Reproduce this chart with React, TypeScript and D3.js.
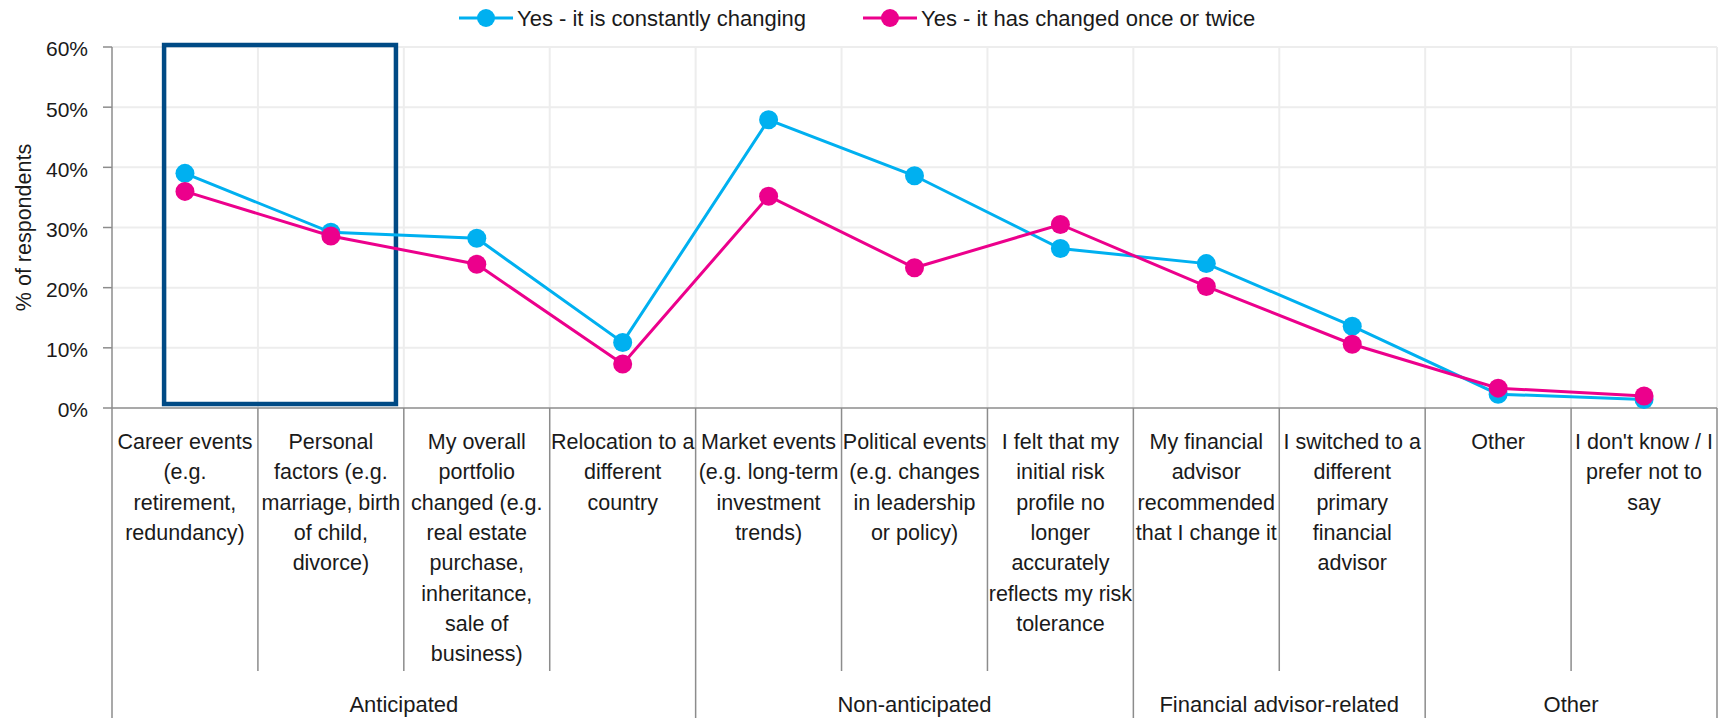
import { useEffect, useRef } from 'react'
import * as d3 from 'd3'

const categories = [
  ['Career events', '(e.g.', 'retirement,', 'redundancy)'],
  ['Personal', 'factors (e.g.', 'marriage, birth', 'of child,', 'divorce)'],
  ['My overall', 'portfolio', 'changed (e.g.', 'real estate', 'purchase,', 'inheritance,', 'sale of', 'business)'],
  ['Relocation to a', 'different', 'country'],
  ['Market events', '(e.g. long-term', 'investment', 'trends)'],
  ['Political events', '(e.g. changes', 'in leadership', 'or policy)'],
  ['I felt that my', 'initial risk', 'profile no', 'longer', 'accurately', 'reflects my risk', 'tolerance'],
  ['My financial', 'advisor', 'recommended', 'that I change it'],
  ['I switched to a', 'different', 'primary', 'financial', 'advisor'],
  ['Other'],
  ["I don't know / I", 'prefer not to', 'say'],
]

const groups = [
  { name: 'Anticipated', start: 0, end: 4 },
  { name: 'Non-anticipated', start: 4, end: 7 },
  { name: 'Financial advisor-related', start: 7, end: 9 },
  { name: 'Other', start: 9, end: 11 },
]

const constantlyChanging = [0.39, 0.292, 0.282, 0.109, 0.479, 0.386, 0.265, 0.24, 0.136, 0.023, 0.014]
const changedOnceOrTwice = [0.36, 0.286, 0.239, 0.073, 0.352, 0.233, 0.305, 0.202, 0.106, 0.033, 0.02]

const series = [
  { name: 'Yes - it is constantly changing', color: '#00B0F0', values: constantlyChanging },
  { name: 'Yes - it has changed once or twice', color: '#EC008C', values: changedOnceOrTwice },
]

const yTicks = [0, 0.1, 0.2, 0.3, 0.4, 0.5, 0.6]

const FONT = '"Liberation Sans", Arial, sans-serif'

export default function App() {
  const svgRef = useRef<SVGSVGElement>(null)
  const width = 1721
  const height = 718

  useEffect(() => {
    if (!svgRef.current) return
    const svg = d3.select(svgRef.current)
    svg.selectAll('*').remove()

    const left = 112, right = 1717, top = 47, bottom = 408

    const x = d3.scaleBand<number>()
      .domain(categories.map((_, i) => i))
      .range([left, right])
      .padding(0)
    const bw = x.bandwidth()
    const cx = (i: number) => (x(i) as number) + bw / 2

    const y = d3.scaleLinear().domain([0, 0.6]).range([bottom, top])

    const g = svg.append('g').style('font-family', FONT)

    // gridlines
    g.append('g').selectAll('line')
      .data(yTicks.slice(1))
      .enter().append('line')
      .attr('x1', left).attr('x2', right)
      .attr('y1', d => y(d)).attr('y2', d => y(d))
      .attr('stroke', '#EDEDED').attr('stroke-width', 2)

    g.append('g').selectAll('line')
      .data(d3.range(1, categories.length + 1))
      .enter().append('line')
      .attr('x1', d => left + d * bw).attr('x2', d => left + d * bw)
      .attr('y1', top).attr('y2', bottom)
      .attr('stroke', '#EDEDED').attr('stroke-width', 2)

    // y axis
    g.append('line')
      .attr('x1', left).attr('x2', left).attr('y1', top).attr('y2', bottom)
      .attr('stroke', '#8C8C8C').attr('stroke-width', 1.5)
    g.append('g').selectAll('line')
      .data(yTicks)
      .enter().append('line')
      .attr('x1', left - 9).attr('x2', left)
      .attr('y1', d => y(d)).attr('y2', d => y(d))
      .attr('stroke', '#8C8C8C').attr('stroke-width', 1.5)
    g.append('g').selectAll('text')
      .data(yTicks)
      .enter().append('text')
      .attr('x', 88).attr('y', d => y(d))
      .attr('dy', '0.45em')
      .attr('text-anchor', 'end')
      .style('font-size', '21px')
      .style('fill', '#1a1a1a')
      .text(d => d3.format('.0%')(d))

    g.append('text')
      .attr('transform', `translate(31,${(top + bottom) / 2}) rotate(-90)`)
      .attr('text-anchor', 'middle')
      .style('font-size', '21.5px')
      .style('fill', '#1a1a1a')
      .text('% of respondents')

    // x axis + category separators
    g.append('line')
      .attr('x1', left).attr('x2', right).attr('y1', bottom).attr('y2', bottom)
      .attr('stroke', '#8C8C8C').attr('stroke-width', 1.5)
    const groupEdges = new Set(groups.flatMap(gr => [gr.start, gr.end]))
    g.append('g').selectAll('line')
      .data(d3.range(0, categories.length + 1))
      .enter().append('line')
      .attr('x1', d => left + d * bw).attr('x2', d => left + d * bw)
      .attr('y1', bottom)
      .attr('y2', d => groupEdges.has(d) ? height : 671)
      .attr('stroke', '#8C8C8C').attr('stroke-width', 1.5)

    // category labels
    const labels = g.append('g').selectAll('text')
      .data(categories)
      .enter().append('text')
      .attr('text-anchor', 'middle')
      .style('font-size', '21.5px')
      .style('fill', '#1a1a1a')
    labels.selectAll('tspan')
      .data((d, i) => d.map(line => ({ line, i })))
      .enter().append('tspan')
      .attr('x', d => cx(d.i))
      .attr('y', (_, j) => 449 + j * 30.3)
      .text(d => d.line)

    // group labels
    g.append('g').selectAll('text')
      .data(groups)
      .enter().append('text')
      .attr('x', d => left + ((d.start + d.end) / 2) * bw)
      .attr('y', 712)
      .attr('text-anchor', 'middle')
      .style('font-size', '22px')
      .style('fill', '#1a1a1a')
      .text(d => d.name)

    // highlight box
    const boxL = (x(0) as number) + bw * 0.357
    const boxR = (x(2) as number) - bw * 0.054
    g.append('rect')
      .attr('x', boxL)
      .attr('y', y(0.6) - 2)
      .attr('width', boxR - boxL)
      .attr('height', bottom - 4 - (y(0.6) - 2))
      .attr('fill', 'none')
      .attr('stroke', '#004A85')
      .attr('stroke-width', 4.5)

    // lines + markers
    const line = d3.line<number>()
      .x((_, i) => cx(i))
      .y(d => y(d))
    series.forEach(s => {
      g.append('path')
        .datum(s.values)
        .attr('d', line)
        .attr('fill', 'none')
        .attr('stroke', s.color)
        .attr('stroke-width', 3)
      g.append('g').selectAll('circle')
        .data(s.values)
        .enter().append('circle')
        .attr('cx', (_, i) => cx(i))
        .attr('cy', d => y(d))
        .attr('r', 9.5)
        .attr('fill', s.color)
    })

    // legend
    const legendX = [459, 863]
    const leg = g.append('g').selectAll('g')
      .data(series)
      .enter().append('g')
      .attr('transform', (_, i) => `translate(${legendX[i]},18)`)
    leg.append('line')
      .attr('x1', 0).attr('x2', 54).attr('y1', 0).attr('y2', 0)
      .attr('stroke', d => d.color).attr('stroke-width', 3)
    leg.append('circle')
      .attr('cx', 27).attr('cy', 0).attr('r', 9)
      .attr('fill', d => d.color)
    leg.append('text')
      .attr('x', 58).attr('y', 0).attr('dy', '0.36em')
      .style('font-size', '22px')
      .style('fill', '#1a1a1a')
      .text(d => d.name)
  }, [])

  return (
    <svg
      ref={svgRef}
      width={width}
      height={height}
      style={{ position: 'absolute', left: 0, top: 0, background: '#ffffff' }}
    />
  )
}
